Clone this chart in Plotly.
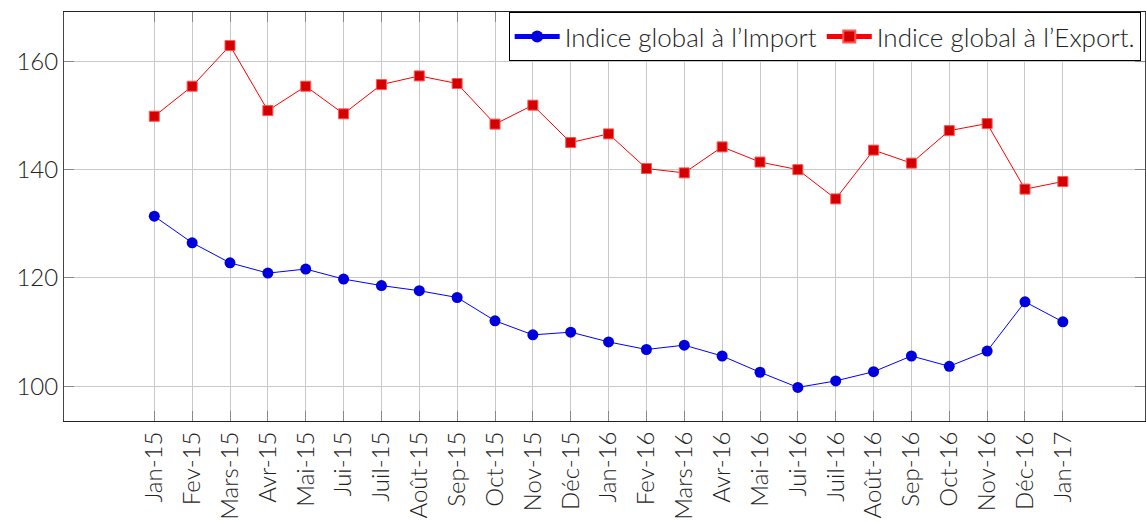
import plotly.graph_objects as go

months = ["Jan-15", "Fev-15", "Mars-15", "Avr-15", "Mai-15", "Jui-15", "Juil-15",
          "Août-15", "Sep-15", "Oct-15", "Nov-15", "Déc-15", "Jan-16", "Fev-16",
          "Mars-16", "Avr-16", "Mai-16", "Jui-16", "Juil-16", "Août-16", "Sep-16",
          "Oct-16", "Nov-16", "Déc-16", "Jan-17"]

import_idx = [131.4, 126.5, 122.8, 120.9, 121.65, 119.8, 118.6, 117.65, 116.4, 112.1,
              109.5, 110.0, 108.2, 106.8, 107.6, 105.6, 102.6, 99.8, 101.0, 102.7,
              105.6, 103.7, 106.5, 115.6, 111.9]

export_idx = [149.85, 155.4, 162.9, 150.9, 155.4, 150.3, 155.7, 157.3, 155.9, 148.4,
              151.9, 145.0, 146.6, 140.2, 139.4, 144.2, 141.4, 140.0, 134.6, 143.6,
              141.2, 147.2, 148.5, 136.4, 137.8]

y_ticks = [100, 120, 140, 160]

x_pos = list(range(len(months)))
FONT = "Lato"
TXT = "#222222"

fig = go.Figure()
fig.add_trace(go.Scatter(
    x=x_pos, y=import_idx, mode="lines+markers",
    name="Indice global à l’Import",
    line=dict(color="#0000ff", width=1),
    marker=dict(symbol="circle", size=11, color="#0000dd", line=dict(width=0)),
))
fig.add_trace(go.Scatter(
    x=x_pos, y=export_idx, mode="lines+markers",
    name="Indice global à l’Export.",
    line=dict(color="#ff0000", width=1),
    marker=dict(symbol="square", size=10, color="#d40000",
                line=dict(width=1, color="#ff5555")),
))

fig.update_layout(
    width=1146, height=522,
    margin=dict(l=64, r=1, t=12, b=101, autoexpand=False),
    plot_bgcolor="white", paper_bgcolor="white",
    font=dict(family=FONT, size=24, color=TXT, weight=300),
    showlegend=True,
    legend=dict(
        orientation="h", x=0.996, xanchor="right", y=1, yanchor="top",
        bordercolor="#000000", borderwidth=1, bgcolor="white",
        font=dict(family=FONT, size=26, color=TXT, weight=300),
        itemsizing="constant", tracegroupgap=0, itemwidth=45,
    ),
)
fig.update_xaxes(
    range=[-2.385, 26.17], automargin=False,
    tickmode="array", tickvals=x_pos, ticktext=months, tickangle=-90,
    showgrid=True, gridcolor="#c8c8c8", gridwidth=1,
    ticks="inside", ticklen=10, tickcolor="#888888",
    showline=True, linecolor="#222222", linewidth=1, mirror="ticks",
    zeroline=False,
    tickfont=dict(family=FONT, size=24, color=TXT, weight=300),
)
fig.update_yaxes(
    range=[93.6, 169.1], automargin=False,
    tickmode="array", tickvals=y_ticks, ticktext=[str(v) for v in y_ticks],
    showgrid=True, gridcolor="#c8c8c8", gridwidth=1,
    ticks="inside", ticklen=10, tickcolor="#888888",
    showline=True, linecolor="#444444", linewidth=1, mirror="ticks",
    zeroline=False,
    tickfont=dict(family=FONT, size=24, color=TXT, weight=300),
)

fig.write_html("out.html", config={"displayModeBar": False},
               post_script="document.body.style.margin='0';")
